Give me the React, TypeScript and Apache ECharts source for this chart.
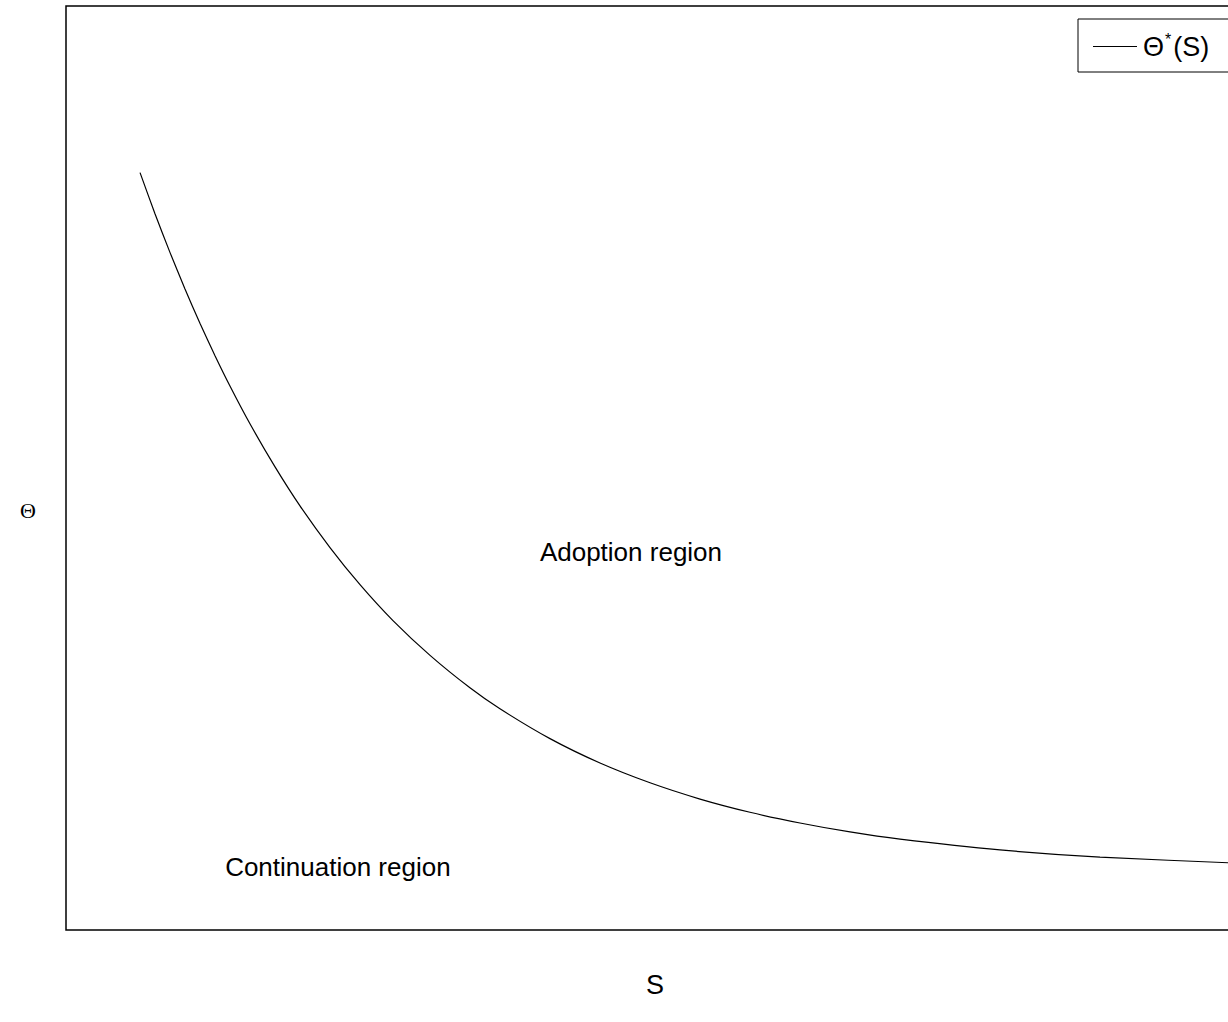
import React, { useEffect, useRef } from "react";
import * as echarts from "echarts";

// S (x) and Θ*(S) (y), in axis units 0..100
const sValues = [6.29, 7.56, 8.84, 10.11, 11.38, 12.66, 13.93, 15.63, 17.76, 19.88, 22.43, 24.98, 27.78, 30.93, 34.32, 36.87, 41.12, 45.37, 49.62, 53.87, 58.11, 62.36, 66.61, 70.86, 79.35, 87.85, 100];
const thetaValues = [81.97, 77.51, 73.31, 69.38, 65.66, 62.15, 58.87, 54.78, 50.12, 45.9, 41.39, 37.37, 33.48, 29.72, 26.21, 23.94, 20.71, 18.07, 15.93, 14.17, 12.74, 11.58, 10.61, 9.83, 8.67, 7.89, 7.21];

const regionLabels = ["Adoption region", "Continuation region"];
const regionS = [48.0, 23.1];
const regionTheta = [40.9, 6.8];

const seriesName = "Θ*(S)";
const xLabel = "S";
const yLabel = "Θ";

export default function App() {
  const ref = useRef<HTMLDivElement>(null);
  useEffect(() => {
    if (!ref.current) return;
    const chart = echarts.init(ref.current, undefined, { renderer: "svg" });
    const font = "'Liberation Sans', Arial, sans-serif";
    chart.setOption({
      animation: false,
      backgroundColor: "#fff",
      grid: {
        left: 66,
        top: 6,
        width: 1177,
        height: 924,
        show: true,
        borderColor: "#000",
        borderWidth: 1.5,
        backgroundColor: "transparent",
      },
      xAxis: { type: "value", min: 0, max: 100, show: false },
      yAxis: { type: "value", min: 0, max: 100, show: false },
      legend: {
        left: 1078,
        top: 19,
        padding: [12, 40, 12, 15],
        borderColor: "#000",
        borderWidth: 1,
        borderRadius: 0,
        backgroundColor: "#fff",
        itemWidth: 44,
        itemHeight: 2,
        icon: "path://M0,0 L44,0 L44,1 L0,1 Z",
        data: [{ name: seriesName, itemStyle: { color: "#000" } }],
        formatter: () => "{a|Θ}{sup|*}{a|(S)}",
        textStyle: {
          fontFamily: font,
          color: "#000",
          rich: {
            a: { fontFamily: font, fontSize: 27, color: "#000", padding: [0, 0, 0, 1] },
            sup: { fontFamily: font, fontSize: 16, color: "#000", padding: [0, 1, 15, 1] },
          },
        },
      },
      series: [
        {
          name: seriesName,
          type: "line",
          data: sValues.map((s, i) => [s, thetaValues[i]]),
          showSymbol: false,
          symbol: "none",
          smooth: 0.2,
          lineStyle: { color: "#000", width: 1.2 },
          itemStyle: { color: "#000" },
          clip: true,
        },
        {
          name: "labels",
          type: "scatter",
          data: regionS.map((s, i) => ({ value: [s, regionTheta[i]], name: regionLabels[i] })),
          symbolSize: 0,
          itemStyle: { color: "transparent", opacity: 1 },
          label: {
            show: true,
            position: "inside",
            formatter: (p: any) => p.name,
            fontFamily: font,
            fontSize: 26,
            color: "#000",
            opacity: 1,
          },
          silent: true,
        },
      ],
      graphic: [
        {
          type: "text",
          x: 28,
          y: 510,
          style: { text: yLabel, fontFamily: "'Liberation Serif', serif", fontSize: 22, fill: "#000", align: "center", verticalAlign: "middle" },
        },
        {
          type: "text",
          x: 655,
          y: 985,
          style: { text: xLabel, fontFamily: font, fontSize: 27, fill: "#000", align: "center", verticalAlign: "middle" },
        },
      ],
    });
    return () => chart.dispose();
  }, []);
  return (
    <div style={{ position: "fixed", left: 0, top: 0, width: 1228, height: 1022, overflow: "hidden", background: "#fff" }}>
      <div ref={ref} style={{ width: 1300, height: 1022 }} />
    </div>
  );
}
